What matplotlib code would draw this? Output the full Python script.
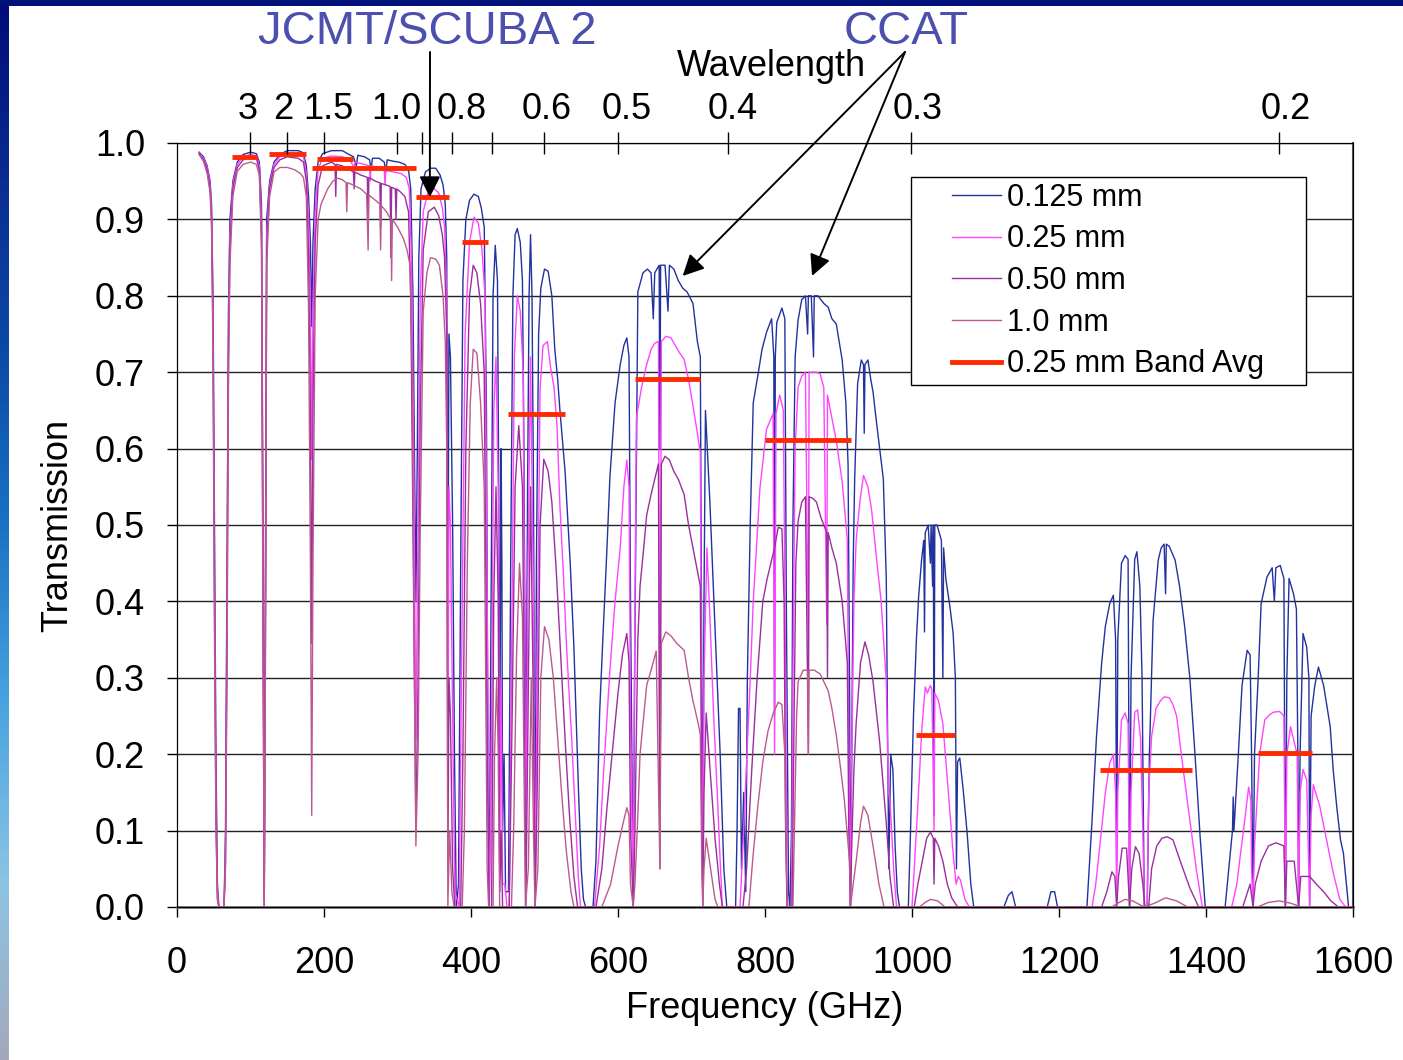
import numpy as np
import matplotlib.pyplot as plt
from matplotlib.lines import Line2D
from matplotlib.patches import Rectangle
from matplotlib.colors import LinearSegmentedColormap

plt.rcParams['font.family'] = ['Liberation Sans', 'DejaVu Sans']

# transmission spectra: (frequency GHz, transmission)
pwv_0125 = [
    (30, .988), (36, .982), (41, .97), (45, .95), (47, .92), (49, .8), (51, .5), (53, .2), (55, .03), (57, 0), (64, 0),
    (66, .1), (68, .45), (70, .78), (72, .9), (76, .95), (82, .975), (90, .985), (100, .988), (108, .986), (112, .975),
    (115, .92), (117, .5), (118.7, .01), (120.5, .5), (122, .9), (126, .95), (132, .975), (140, .985), (150, .99),
    (165, .99), (172, .987), (176, .97), (179, .93), (181.5, .87), (183.3, .76), (185, .87), (188, .94), (192, .975),
    (198, .986), (210, .99), (225, .99), (232, .986), (240, .982), (244, .97), (246, .984), (255, .982), (262, .978),
    (264, .965), (266, .98), (275, .98), (282, .975), (284, .962), (286, .978), (295, .976), (302, .975), (310, .972),
    (315, .965), (318, .94), (321, .8), (323, .6), (325, .4), (327, .6), (329, .85), (332, .94), (338, .962), (345, .967),
    (352, .967), (358, .958), (362, .945), (365, .92), (367, .85), (368.5, .35), (370, .75), (372, .72), (375, .5),
    (377.5, .2), (380, 0), (383, .03), (386, .45), (389, .82), (393, .9), (398, .925), (404, .933), (410, .93),
    (414, .915), (418, .89), (421, .65), (423, .2), (424.8, 0), (427, .35), (430, .8), (433, .866), (436, .82),
    (438, .5), (439.2, .2), (441, .6), (442, .45), (443, .1), (445, .2), (447, .02), (451, .02), (454, .45), (457, .8),
    (460, .88), (463, .888), (467, .87), (470, .82), (472, .6), (474.7, .15), (477, .55), (479, .8), (481, .88),
    (483, .8), (485, .55), (487.2, 0), (489, .45), (492, .75), (495, .81), (500, .835), (505, .832), (510, .8),
    (514, .73), (518, .69), (521, .65), (528, .57), (535, .45), (540, .34), (546, .16), (550, .05), (553, .01), (556, 0),
    (566, 0), (570, .06), (575, .254), (580, .364), (585, .47), (589, .563), (596, .66), (603, .71), (608, .735),
    (612, .745), (615, .72), (617, .4), (620.7, 0), (623, .35), (627, .805), (634, .83), (640, .835), (645, .83),
    (648, .77), (650, .83), (656, .84), (657, .6), (658, .84), (664, .84), (668, .78), (670, .84), (676, .835),
    (682, .82), (688, .81), (694, .805), (702, .79), (708, .74), (712, .72), (714, .3), (715.4, .05), (717, .4),
    (719, .65), (725, .53), (732, .364), (739, .2), (744, .05), (748, 0), (760, 0), (762, .1), (764, .26), (766, .26),
    (768, .05), (771, .15), (773.8, .02), (776, .3), (780, .505), (784, .66), (791, .7), (796, .73), (802, .752),
    (809, .77), (812, .72), (813, .25), (814, .72), (816, .765), (823, .784), (827, .77), (829, .4), (832, .02),
    (834, 0), (836, .1), (838, .5), (841, .72), (845, .768), (850, .795), (855, .8), (858, .75), (859, .8), (863, .8),
    (866, .72), (867, .8), (872, .8), (876, .795), (880, .79), (886, .785), (891, .77), (897, .763), (905, .716),
    (910, .66), (913, .58), (915, .3), (916.2, 0), (918, .2), (920, .45), (922, .56), (926, .685), (931, .716),
    (934, .71), (935, .62), (936, .71), (940, .716), (944, .69), (947, .674), (951, .64), (956, .6), (961, .56),
    (965, .43), (967, .2), (968.5, .05), (971, .2), (974, .18), (977, .08), (980, .02), (983, 0),
    (995, 0), (998, .1), (1002, .25), (1006, .35), (1009, .406), (1013, .454), (1016, .48), (1017, .36), (1018, .49),
    (1022, .5), (1025, .45), (1026, .5), (1028, .42), (1029, .5), (1030, .12), (1031, .5), (1034, .5), (1040, .48),
    (1042, .3), (1043, .47), (1046, .43), (1052, .39), (1056, .358), (1059, .3), (1060.5, .05), (1062, .19),
    (1065, .195), (1070, .15), (1075, .097), (1080, .03), (1084, 0),
    (1125, 0), (1131, .015), (1136, .02), (1141, 0), (1184, 0), (1189, .02), (1194, .02), (1198, 0),
    (1238, 0), (1245, .114), (1251, .223), (1258, .319), (1263, .367), (1269, .397), (1274, .408), (1277, .35),
    (1278.5, .06), (1280, .35), (1285, .45), (1290, .46), (1294, .455), (1296, 0), (1298, .3), (1303, .455),
    (1306, .465), (1310, .42), (1313, .3), (1316, 0), (1320, 0), (1323, .2), (1328, .375), (1335, .454), (1339, .47),
    (1343, .475), (1345, .41), (1346, .475), (1350, .472), (1358, .454), (1364, .42), (1371, .367), (1378, .3),
    (1385, .2), (1392, .092), (1399, 0),
    (1426, 0), (1433, .07), (1436, .1), (1437, .144), (1438, .1), (1444, .2), (1449, .29), (1456, .336), (1460, .33),
    (1462, .2), (1464, 0), (1466, .2), (1471, .3), (1475, .397), (1483, .432), (1490, .444), (1493, .4), (1495, .444),
    (1501, .447), (1506, .43), (1508, 0), (1510, .3), (1513, .43), (1519, .41), (1523, .39), (1525, .2), (1526, 0),
    (1528, .2), (1532, .358), (1537, .34), (1540, .3), (1541, 0), (1543, .25), (1548, .29), (1553, .314), (1560, .29),
    (1565, .26), (1569, .236), (1573, .18), (1578, .13), (1583, .088), (1587, .07), (1594, 0), (1600, 0)]

pwv_025 = [
    (30, .987), (36, .98), (41, .968), (45, .945), (47, .91), (49, .78), (51, .45), (53, .15), (55, .02), (57, 0), (64, 0),
    (66, .08), (68, .4), (70, .75), (72, .88), (76, .945), (82, .972), (90, .982), (100, .985), (108, .983), (112, .97),
    (115, .9), (117, .45), (118.7, 0), (120.5, .45), (122, .88), (126, .945), (132, .972), (140, .982), (150, .986),
    (165, .986), (172, .982), (176, .96), (179, .9), (181.5, .78), (183.3, .586), (185, .78), (188, .91), (192, .965),
    (198, .98), (210, .983), (225, .982), (235, .978), (240, .97), (241, .955), (242, .975), (255, .972), (262, .97),
    (263, .95), (264, .97), (275, .968), (282, .965), (283, .945), (284, .964), (295, .962), (305, .96), (312, .955),
    (316, .94), (319, .85), (322, .6), (325, .22), (328, .5), (331, .8), (335, .91), (342, .938), (350, .94), (356, .935),
    (361, .915), (364, .89), (367, .8), (368.5, .15), (370, .55), (372, .5), (375, .25), (378, .02), (384, 0), (387, .3),
    (392, .75), (398, .87), (404, .903), (410, .895), (415, .86), (419, .8), (422, .4), (424.8, 0), (427, .1),
    (431, .65), (434, .72), (437, .55), (439.2, .08), (441, .3), (443, .03), (446, .03), (449, 0), (452, 0), (455, .3),
    (459, .72), (463, .8), (467, .78), (471, .7), (474.7, .05), (477, .4), (481, .72), (485, .4), (487.2, 0), (490, .3),
    (494, .68), (498, .735), (504, .74), (508, .708), (513, .68), (517, .63), (521, .525), (526, .43), (530, .34),
    (537, .22), (542, .12), (546, .04), (549, 0),
    (568, 0), (575, .08), (580, .17), (589, .31), (596, .4), (603, .47), (608, .55), (612, .585), (615, .55), (617, .25),
    (620.7, 0), (622, .25), (625, .64), (632, .68), (639, .71), (645, .73), (650, .738), (655, .74), (657, .13),
    (659, .74), (665, .747), (672, .745), (678, .735), (684, .725), (690, .717), (696, .69), (702, .656), (708, .62),
    (712, .595), (714, .2), (715.4, .02), (717, .3), (721, .47), (725, .38), (730, .254), (735, .15), (739, .06),
    (742, 0), (766, 0), (770, .08), (775, .19), (780, .3), (784, .4), (789, .48), (793, .547), (798, .59), (802, .625),
    (811, .646), (813, .2), (815, .646), (820, .67), (825, .65), (828, .3), (830, 0), (836, 0), (838, .3), (841, .6),
    (845, .68), (850, .695), (855, .7), (859, .33), (860, .7), (865, .7), (870, .7), (875, .698), (880, .68),
    (884, .37), (885, .67), (891, .64), (897, .61), (905, .557), (912, .48), (914, .2), (916.2, 0), (918, .2),
    (921, .4), (924, .48), (929, .53), (934, .565), (940, .55), (945, .52), (951, .463), (958, .4), (965, .295),
    (968, .15), (970, .14), (975, .05), (979, 0),
    (1000, 0), (1006, .1), (1010, .17), (1013, .228), (1018, .288), (1021, .28), (1025, .29), (1027, .285), (1030, .1),
    (1031, .28), (1036, .27), (1042, .24), (1047, .18), (1052, .118), (1056, .07), (1060, .03), (1063, .04),
    (1066, .035), (1072, .01), (1078, 0),
    (1245, 0), (1250, .03), (1256, .084), (1263, .149), (1269, .188), (1274, .2), (1277, .15), (1278.5, 0), (1280, .15),
    (1285, .245), (1290, .254), (1294, .24), (1296, 0), (1298, .15), (1303, .255), (1307, .258), (1311, .22),
    (1314, .1), (1316, 0), (1320, 0), (1322, .15), (1326, .223), (1332, .26), (1338, .27), (1343, .275), (1350, .274),
    (1355, .265), (1360, .25), (1369, .18), (1378, .114), (1387, .048), (1395, 0),
    (1435, 0), (1442, .03), (1447, .07), (1451, .1), (1458, .157), (1461, .14), (1462, .05), (1464, 0), (1466, .08),
    (1473, .2), (1480, .245), (1487, .252), (1492, .255), (1500, .256), (1506, .25), (1508, 0), (1510, .2),
    (1515, .236), (1524, .2), (1526, 0), (1528, .15), (1532, .18), (1537, .166), (1541, 0), (1543, .12), (1546, .16),
    (1555, .131), (1564, .088), (1573, .045), (1582, .01), (1590, 0), (1600, 0)]

pwv_050 = [
    (30, .986), (36, .978), (41, .965), (45, .94), (47, .9), (49, .75), (51, .4), (53, .12), (55, .01), (57, 0), (64, 0),
    (66, .06), (68, .35), (70, .72), (72, .86), (76, .94), (82, .968), (90, .978), (100, .982), (108, .98), (112, .965),
    (115, .88), (117, .4), (118.7, 0), (120.5, .4), (122, .86), (126, .94), (132, .968), (140, .978), (150, .982),
    (165, .98), (172, .975), (176, .95), (179, .85), (181.5, .65), (183.3, .345), (185, .65), (188, .87), (192, .945),
    (198, .97), (210, .975), (215, .972), (216, .93), (217, .972), (225, .97), (235, .965), (240, .962), (241, .94),
    (242, .962), (250, .958), (259, .955), (260, .88), (261, .955), (270, .95), (276, .948), (277, .89), (278, .947),
    (285, .945), (290, .943), (291, .85), (292, .942), (297, .94), (298, .9), (299, .94), (305, .935), (310, .93),
    (315, .91), (318, .8), (321, .5), (325, .1), (328, .3), (331, .65), (335, .86), (342, .91), (350, .916), (356, .905),
    (361, .88), (364, .85), (367, .75), (368.5, .05), (370, .3), (372, .25), (375, .05), (378, 0), (386, 0), (389, .2),
    (393, .6), (398, .8), (403, .84), (408, .83), (413, .79), (418, .7), (422, .2), (424.8, 0), (428, 0), (431, .4),
    (434, .55), (437, .4), (439.2, .02), (441, .1), (443, 0), (452, 0), (456, .25), (460, .55), (465, .63), (470, .55),
    (474.7, 0), (477, .2), (481, .55), (485, .25), (487.2, 0), (490, .15), (494, .5), (499, .586), (505, .57),
    (510, .53), (516, .44), (522, .33), (528, .22), (534, .12), (540, .04), (545, 0),
    (570, 0), (578, .05), (585, .13), (592, .2), (600, .28), (606, .33), (612, .358), (615, .32), (617, .1), (620.7, 0),
    (623, .1), (627, .35), (630, .42), (635, .47), (639, .513), (645, .54), (650, .56), (655, .58), (657, .05),
    (659, .58), (664, .59), (670, .585), (676, .57), (682, .56), (690, .54), (696, .5), (702, .47), (708, .44),
    (712, .42), (714, .1), (715.4, 0), (717, .15), (720, .254), (726, .17), (732, .09), (738, .03), (742, 0),
    (770, 0), (775, .05), (782, .18), (789, .295), (797, .4), (803, .43), (808, .45), (813, .47), (818, .497),
    (823, .495), (826, .4), (828, .1), (830, 0), (837, 0), (839, .2), (842, .45), (845, .505), (850, .53), (855, .537),
    (859, .2), (860, .537), (865, .535), (870, .53), (876, .51), (884, .49), (885, .3), (886, .49), (891, .47),
    (897, .45), (905, .4), (912, .32), (914, .1), (916.2, 0), (918, .08), (921, .18), (924, .24), (930, .32),
    (936, .347), (941, .33), (947, .295), (956, .216), (965, .11), (970, .04), (975, 0),
    (1003, 0), (1008, .03), (1011, .045), (1016, .07), (1020, .09), (1025, .098), (1029, .09), (1030, .03), (1031, .09),
    (1036, .08), (1042, .06), (1048, .03), (1054, .012), (1062, 0),
    (1258, 0), (1265, .02), (1272, .046), (1276, .04), (1278.5, 0), (1281, .04), (1286, .077), (1292, .077), (1296, 0),
    (1299, .05), (1304, .079), (1309, .07), (1314, .03), (1317, 0), (1322, 0), (1326, .05), (1333, .08), (1340, .09),
    (1347, .092), (1355, .088), (1365, .06), (1378, .025), (1390, 0),
    (1450, 0), (1460, .03), (1464, 0), (1467, .03), (1475, .06), (1485, .08), (1495, .084), (1506, .08), (1508, 0),
    (1510, .06), (1520, .06), (1526, 0), (1529, .04), (1541, .04), (1550, .03), (1560, .02), (1570, .008), (1580, 0),
    (1600, 0)]

pwv_100 = [
    (30, .985), (36, .976), (41, .96), (45, .935), (47, .89), (49, .72), (51, .35), (53, .1), (55, .01), (57, 0), (64, 0),
    (66, .05), (68, .3), (70, .68), (72, .84), (76, .93), (82, .963), (90, .972), (100, .975), (108, .972), (112, .958),
    (115, .86), (117, .35), (118.7, 0), (120.5, .35), (122, .84), (126, .93), (132, .962), (140, .968), (150, .968),
    (160, .965), (168, .96), (172, .955), (176, .93), (179, .78), (181.5, .45), (183.3, .12), (185, .45), (188, .8),
    (192, .9), (196, .92), (205, .94), (212, .95), (218, .954), (225, .952), (230, .948), (231, .91), (232, .948),
    (240, .945), (250, .94), (258, .933), (260, .86), (261, .932), (270, .925), (276, .92), (277, .86), (278, .918),
    (285, .91), (291, .9), (292, .82), (293, .9), (300, .89), (308, .875), (313, .86), (317, .84), (320, .7), (323, .3),
    (325, .08), (328, .2), (331, .5), (335, .78), (340, .83), (345, .85), (352, .848), (357, .84), (362, .8), (365, .74),
    (367, .6), (368.5, 0), (371, .1), (374, .02), (377, 0), (388, 0), (391, .1), (395, .45), (399, .66), (403, .73),
    (408, .725), (413, .66), (418, .55), (422, .05), (424, 0), (430, 0), (432, .2), (435, .3), (437, .2), (439, 0),
    (455, 0), (458, .1), (462, .33), (466, .45), (470, .38), (474, 0), (478, .05), (482, .3), (485, .1), (487, 0),
    (491, .05), (495, .3), (500, .367), (506, .35), (512, .3), (518, .22), (524, .14), (530, .07), (536, .02), (540, 0),
    (578, 0), (590, .03), (600, .08), (607, .11), (612, .13), (615, .12), (617, .03), (620.7, 0), (623, .03), (627, .12),
    (630, .2), (635, .25), (639, .29), (645, .31), (652, .335), (657, .05), (659, .345), (665, .36), (672, .355),
    (680, .345), (690, .336), (696, .3), (702, .27), (708, .245), (712, .226), (714, .05), (715.4, 0), (717, .05),
    (720, .09), (726, .05), (732, .01), (736, 0),
    (778, 0), (784, .07), (790, .13), (797, .19), (804, .23), (811, .253), (818, .268), (823, .265), (827, .2),
    (829, .05), (831, 0), (838, 0), (840, .1), (843, .25), (845, .295), (852, .31), (858, .31), (859, .2), (860, .31),
    (867, .31), (875, .305), (886, .283), (891, .26), (897, .225), (903, .18), (908, .14), (915, .06), (916.2, 0),
    (920, .03), (924, .06), (930, .11), (934, .132), (940, .12), (947, .08), (955, .03), (962, 0),
    (1010, 0), (1018, .006), (1025, .01), (1035, .008), (1045, 0),
    (1272, 0), (1280, .005), (1290, .01), (1300, .008), (1316, 0), (1330, .005), (1345, .012), (1360, .008), (1375, 0),
    (1470, 0), (1485, .006), (1500, .008), (1515, .005), (1530, 0), (1600, 0)]

# 0.25 mm band averages
band_lo = [75, 125, 184, 191, 325, 388, 450, 623, 800, 1005, 1256, 1471]
band_hi = [109, 175, 325, 239, 370, 423, 528, 711, 917, 1058, 1381, 1544]
band_avg = [.982, .986, .967, .979, .929, .870, .645, .691, .611, .225, .179, .201]

series_labels = ['0.125 mm', '0.25 mm', '0.50 mm', '1.0 mm']
series_colors = ['#22329e', '#ff44ff', '#9a2f9e', '#bb5a90']

# wavelength axis (mm): tick marks, and labels with the frequency they sit over
wl_ticks = [3, 2, 1.5, 1.0, 0.9, 0.8, 0.7, 0.6, 0.5, 0.4, 0.3, 0.2]
wl_labels = ['3', '2', '1.5', '1.0', '0.8', '0.6', '0.5', '0.4', '0.3', '0.2']
wl_label_ghz = [96, 144, 206, 298, 388, 503, 612, 756, 1007, 1508]

W, H = 1403, 1060
fig = plt.figure(figsize=(W / 100, H / 100), dpi=100)

# slide decoration: gradient strip on the left, navy bar on top
grad = LinearSegmentedColormap.from_list('slide', ['#000c78', '#0a2c92', '#0b4aa8', '#1a74c4', '#4aa4e0', '#8cc4e4', '#a4a8bc'])
gax = fig.add_axes([0, 0, 9 / W, 1])
gax.imshow(np.linspace(0, 1, 256).reshape(-1, 1), aspect='auto', cmap=grad)
gax.axis('off')
tax = fig.add_axes([0, 1 - 6 / H, 1, 6 / H])
tax.set_facecolor('#00117a')
tax.set_xticks([])
tax.set_yticks([])
for s in tax.spines.values():
    s.set_visible(False)

ax = fig.add_axes([177 / W, 153 / H, 1176 / W, 764 / H])
for data, lab, col in zip([pwv_0125, pwv_025, pwv_050, pwv_100], series_labels, series_colors):
    f, t = zip(*data)
    ax.plot(f, t, color=col, lw=1.0, label=lab, zorder=3)
ax.hlines(band_avg, band_lo, band_hi, color='#ff2a00', lw=3.5, zorder=4)

ax.set_xlim(0, 1600)
ax.set_ylim(0, 1.0)
ax.set_xticks(np.arange(0, 1601, 200))
ax.set_yticks(np.arange(0, 1.01, 0.1))
ax.set_yticklabels(['%.1f' % v for v in np.arange(0, 1.01, 0.1)])
ax.yaxis.grid(True, color='#222222', lw=1.0, zorder=0)
ax.tick_params(axis='both', labelsize=26, direction='out', length=7, width=1)
ax.tick_params(axis='y', pad=16)
ax.tick_params(axis='x', pad=21)
ax.set_xlabel('Frequency (GHz)', fontsize=26, labelpad=7)
ax.set_ylabel('Transmission', fontsize=26, labelpad=14)
ax.spines['left'].set_color('black')
ax.spines['bottom'].set_color('#7a7a7a')
ax.spines['bottom'].set_linewidth(2)
ax.spines['right'].set_color('#555555')
ax.spines['right'].set_linewidth(1.5)

# wavelength axis on top
ax2 = ax.twiny()
ax2.set_xlim(0, 1600)
ax2.set_xticks([299.79 / w for w in wl_ticks])
ax2.set_xticklabels([])
ax2.tick_params(axis='x', direction='inout', length=16, width=1)
ax2.spines['top'].set_color('black')
for g, lab in zip(wl_label_ghz, wl_labels):
    ax2.text(g, 1.0 + 33 / 764, lab, transform=ax2.get_xaxis_transform(), fontsize=26,
             ha='center', va='center')

# legend
ax.add_patch(Rectangle((0.6241, 0.6832), 0.3359, 0.2723, transform=ax.transAxes,
                       facecolor='white', edgecolor='black', lw=1.0, zorder=5))
handles, labels = ax.get_legend_handles_labels()
handles.append(Line2D([], [], color='#ff2a00', lw=3.5))
labels.append('0.25 mm Band Avg')
leg = ax.legend(handles, labels, loc='center', bbox_to_anchor=(0.6241, 0.6832, 0.3359, 0.2723),
                frameon=False, fontsize=22, handlelength=1.6, handletextpad=0.2, labelspacing=0.38,
                borderpad=0)
leg.set_zorder(6)

# annotations
fig.text(427 / W, 1 - 32 / H, 'JCMT/SCUBA 2', fontsize=34, color='#4b4fae', ha='center', va='center')
fig.text(906 / W, 1 - 32 / H, 'CCAT', fontsize=34, color='#4b4fae', ha='center', va='center')
fig.text(771 / W, 1 - 67 / H, 'Wavelength', fontsize=26, color='black', ha='center', va='center')
ap = dict(arrowstyle='-|>', color='black', lw=1.4, mutation_scale=32, shrinkA=0, shrinkB=0)
ax.annotate('', xy=(344, 0.929), xytext=(430 / W, 1 - 52 / H), textcoords='figure fraction',
            arrowprops=ap, annotation_clip=False, zorder=7)
ax.annotate('', xy=(688, 0.826), xytext=(905 / W, 1 - 52 / H), textcoords='figure fraction',
            arrowprops=ap, annotation_clip=False, zorder=7)
ax.annotate('', xy=(864, 0.826), xytext=(905 / W, 1 - 52 / H), textcoords='figure fraction',
            arrowprops=ap, annotation_clip=False, zorder=7)

fig.savefig('out.png', dpi=100)
